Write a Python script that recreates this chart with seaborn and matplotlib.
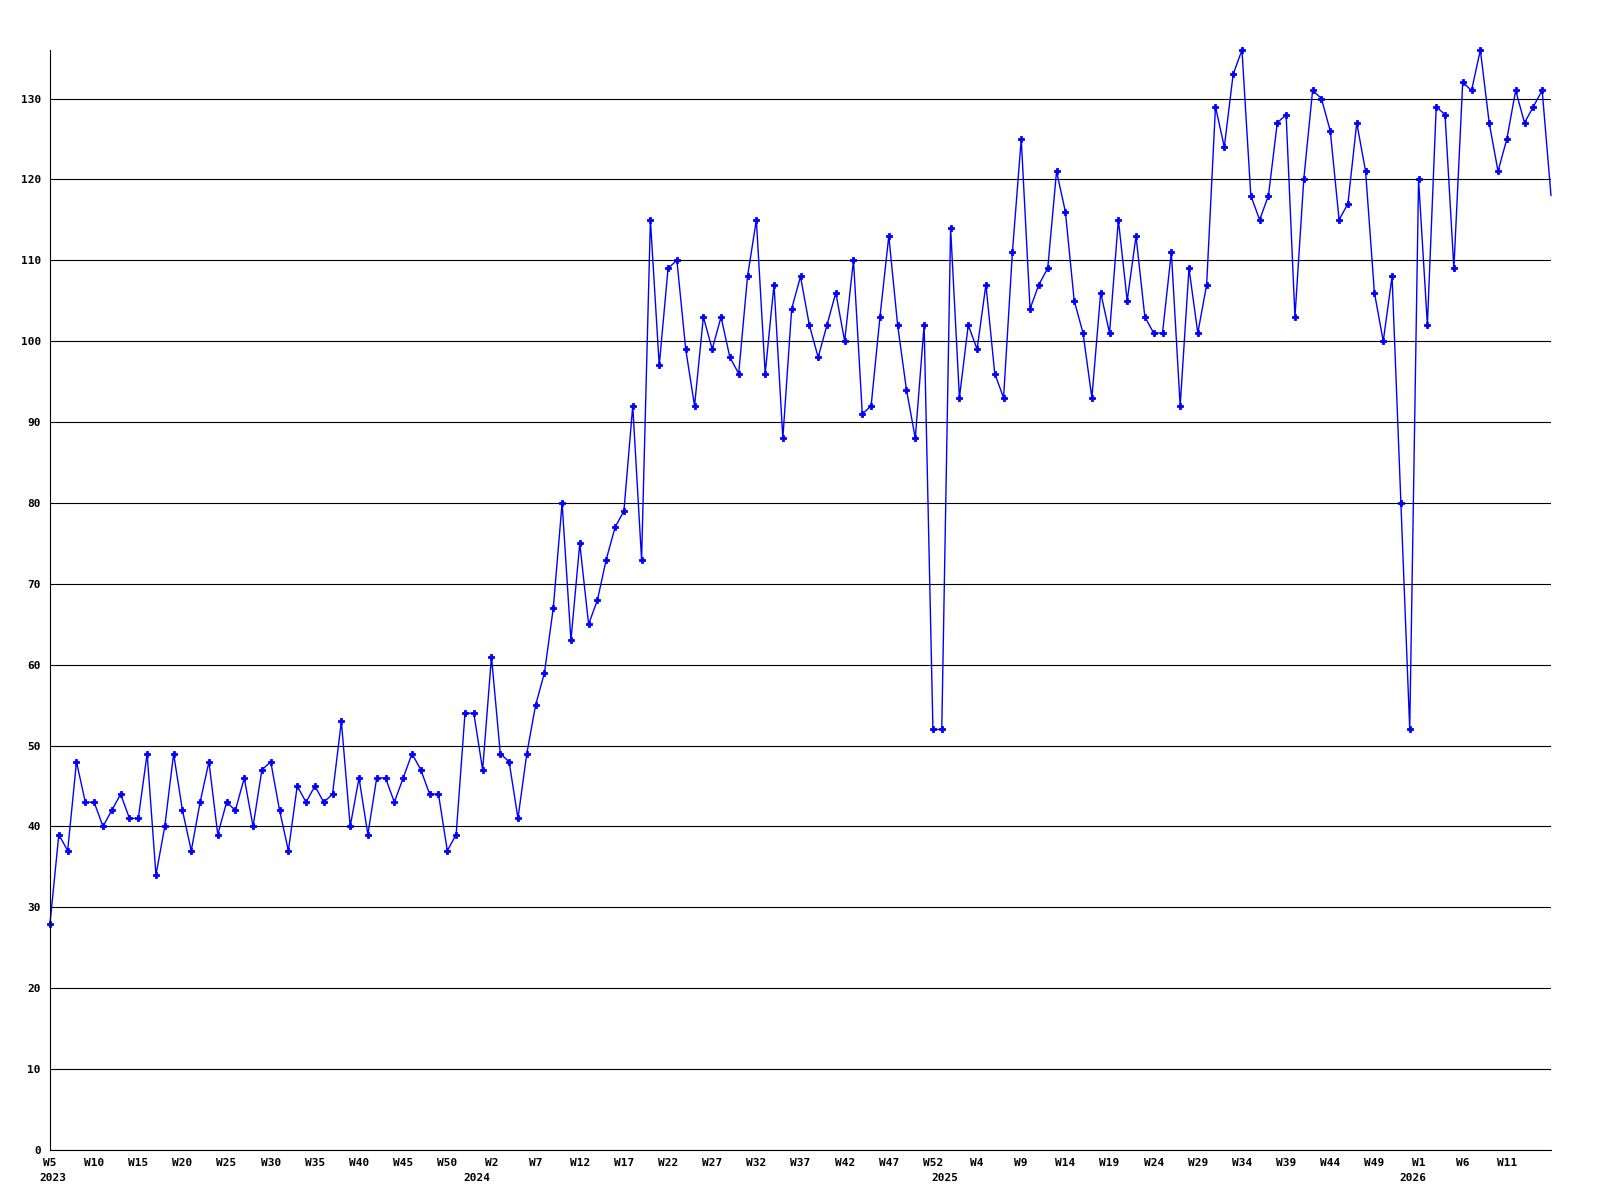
import matplotlib
matplotlib.use('Agg')
import matplotlib.pyplot as plt
import matplotlib.transforms as mtransforms
import seaborn as sns

# weekly counts, 2023 W5 .. 2026 (one value per week slot)
values = [
    28, 39, 37, 48, 43, 43, 40, 42, 44, 41, 41, 49, 34, 40, 49, 42, 37, 43, 48, 39,
    43, 42, 46, 40, 47, 48, 42, 37, 45, 43, 45, 43, 44, 53, 40, 46, 39, 46, 46, 43,
    46, 49, 47, 44, 44, 37, 39, 54, 54, 47, 61, 49, 48, 41, 49, 55, 59, 67, 80, 63,
    75, 65, 68, 73, 77, 79, 92, 73, 115, 97, 109, 110, 99, 92, 103, 99, 103, 98, 96, 108,
    115, 96, 107, 88, 104, 108, 102, 98, 102, 106, 100, 110, 91, 92, 103, 113, 102, 94, 88, 102,
    52, 52, 114, 93, 102, 99, 107, 96, 93, 111, 125, 104, 107, 109, 121, 116, 105, 101, 93, 106,
    101, 115, 105, 113, 103, 101, 101, 111, 92, 109, 101, 107, 129, 124, 133, 136, 118, 115, 118, 127,
    128, 103, 120, 131, 130, 126, 115, 117, 127, 121, 106, 100, 108, 80, 52, 120, 102, 129, 128, 109,
    132, 131, 136, 127, 121, 125, 131, 127, 129, 131, 118,
]

# x tick labels, one every 5 week slots
week_labels = [
    'W5', 'W10', 'W15', 'W20', 'W25', 'W30', 'W35', 'W40', 'W45', 'W50',
    'W2', 'W7', 'W12', 'W17', 'W22', 'W27', 'W32', 'W37', 'W42', 'W47', 'W52',
    'W4', 'W9', 'W14', 'W19', 'W24', 'W29', 'W34', 'W39', 'W44', 'W49',
    'W1', 'W6', 'W11',
]

years = ['2023', '2024', '2025', '2026']
year_pos = [0.3, 48.3, 101.3, 154.3]

y_ticks = list(range(0, 131, 10))

sns.set_theme(style='white')
plt.rcParams['font.family'] = ['DejaVu Sans Mono']
plt.rcParams['font.weight'] = 'bold'

fig = plt.figure(figsize=(16, 12), dpi=100)
ax = fig.add_axes([50 / 1600, 50 / 1200, 1501 / 1600, 1100 / 1200])

x = list(range(len(values)))
sns.lineplot(x=x, y=values, ax=ax, color='#0000ff', linewidth=1.0,
             marker='P', markersize=4.5, markeredgewidth=0.6,
             markeredgecolor='#0000ff', markerfacecolor='#0000ff',
             markevery=slice(0, len(values) - 1), clip_on=False)

ax.set_xlim(0, len(values) - 1)
ax.set_ylim(0, 136)

ax.set_yticks(y_ticks)
ax.set_yticklabels([str(v) for v in y_ticks], fontsize=8, fontweight='bold')
ax.set_xticks(range(0, 5 * len(week_labels), 5))
ax.set_xticklabels(week_labels, fontsize=8, fontweight='bold')
ax.tick_params(axis='both', length=0, colors='black')
ax.tick_params(axis='y', pad=6.5)
ax.tick_params(axis='x', pad=5.5)

ax.yaxis.grid(True, color='black', linewidth=0.8)
ax.xaxis.grid(False)
ax.set_axisbelow(True)

for side in ['top', 'right']:
    ax.spines[side].set_visible(False)
for side in ['left', 'bottom']:
    ax.spines[side].set_color('black')
    ax.spines[side].set_linewidth(0.8)

trans = mtransforms.blended_transform_factory(ax.transData, ax.transAxes)
for yr, xp in zip(years, year_pos):
    ax.text(xp, -0.0205, yr, transform=trans, ha='center', va='top',
            fontsize=8, fontweight='bold', color='black')

ax.set_xlabel('')
ax.set_ylabel('')

fig.savefig('out.png', dpi=100, facecolor='white')
